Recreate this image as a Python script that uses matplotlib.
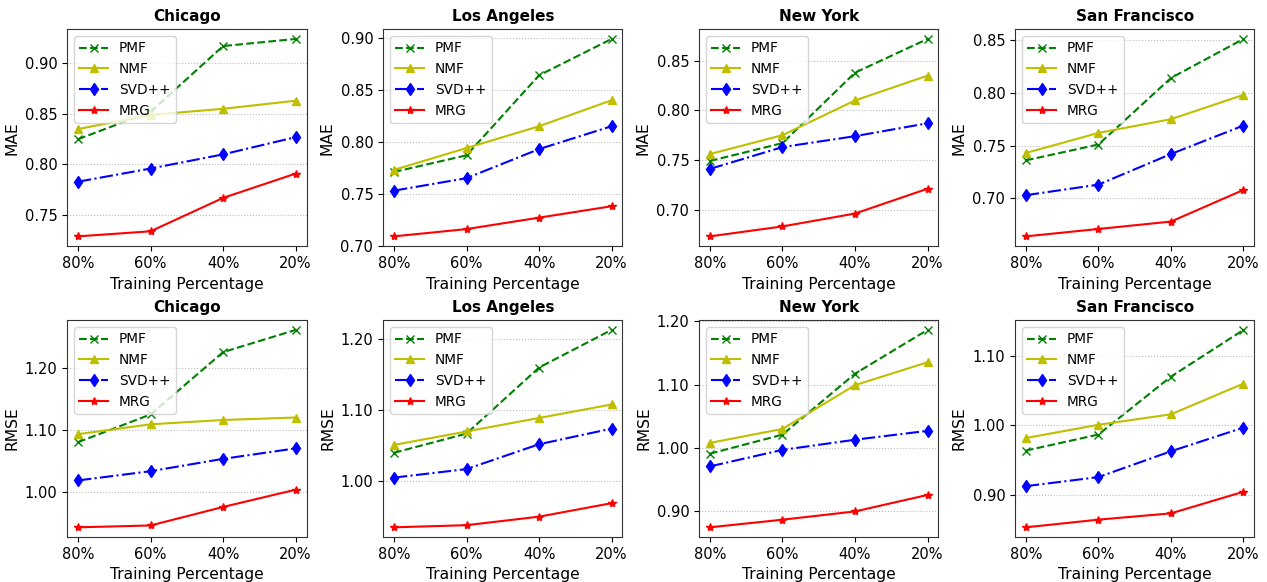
import numpy as np
import matplotlib
matplotlib.use('Agg')
import matplotlib.pyplot as plt
from matplotlib.ticker import FormatStrFormatter, MultipleLocator

cities = ['Chicago', 'Los Angeles', 'New York', 'San Francisco']
train_pct = ['80%', '60%', '40%', '20%']
methods = ['PMF', 'NMF', 'SVD++', 'MRG']

# MAE per city, per method (80%, 60%, 40%, 20%)
mae_chicago = [[0.825, 0.852, 0.917, 0.924],
               [0.835, 0.849, 0.855, 0.863],
               [0.783, 0.796, 0.810, 0.827],
               [0.729, 0.734, 0.767, 0.791]]
mae_la = [[0.771, 0.787, 0.864, 0.899],
          [0.773, 0.794, 0.815, 0.840],
          [0.753, 0.765, 0.793, 0.815],
          [0.709, 0.716, 0.727, 0.738]]
mae_ny = [[0.749, 0.767, 0.838, 0.872],
          [0.756, 0.775, 0.810, 0.835],
          [0.741, 0.763, 0.774, 0.787],
          [0.673, 0.683, 0.696, 0.721]]
mae_sf = [[0.736, 0.751, 0.814, 0.851],
          [0.743, 0.762, 0.775, 0.798],
          [0.703, 0.713, 0.742, 0.769],
          [0.664, 0.671, 0.678, 0.708]]

# RMSE
rmse_chicago = [[1.080, 1.125, 1.226, 1.262],
                [1.093, 1.109, 1.116, 1.120],
                [1.018, 1.033, 1.053, 1.070],
                [0.942, 0.945, 0.975, 1.003]]
rmse_la = [[1.040, 1.067, 1.160, 1.213],
           [1.051, 1.070, 1.089, 1.108],
           [1.005, 1.017, 1.052, 1.074],
           [0.935, 0.938, 0.950, 0.969]]
rmse_ny = [[0.991, 1.021, 1.117, 1.186],
           [1.008, 1.030, 1.099, 1.135],
           [0.971, 0.997, 1.013, 1.027],
           [0.875, 0.887, 0.900, 0.926]]
rmse_sf = [[0.964, 0.987, 1.070, 1.137],
           [0.982, 1.001, 1.016, 1.060],
           [0.913, 0.926, 0.963, 0.997],
           [0.854, 0.865, 0.874, 0.905]]

mae_all = [mae_chicago, mae_la, mae_ny, mae_sf]
rmse_all = [rmse_chicago, rmse_la, rmse_ny, rmse_sf]

styles = ['g--x', 'y-^', 'b-.d', 'r-*']

fig, axes = plt.subplots(2, 4, figsize=(12.67, 5.82), dpi=100)
plt.subplots_adjust(left=0.053, right=0.99, top=0.95, bottom=0.077,
                    wspace=0.32, hspace=0.34)

x = np.arange(len(train_pct))
for row, (metric, data, step) in enumerate([('MAE', mae_all, 0.05),
                                            ('RMSE', rmse_all, 0.1)]):
    for col in range(4):
        ax = axes[row, col]
        for i in range(4):
            ax.plot(x, data[col][i], styles[i], label=methods[i], markersize=6)
        ax.set_xticks(x)
        ax.set_xticklabels(train_pct, fontsize=10.5)
        ax.tick_params(axis='y', labelsize=10.5)
        ax.yaxis.grid(True, linestyle=':', color='#bbbbbb')
        ax.set_xlabel('Training Percentage', fontsize=11.2)
        ax.set_ylabel(metric, fontsize=11.2)
        ax.set_title(cities[col], fontsize=11, fontweight='bold')
        ax.yaxis.set_major_formatter(FormatStrFormatter('%.2f'))
        ax.yaxis.set_major_locator(MultipleLocator(step))
        for s in ax.spines.values():
            s.set_edgecolor('#333333')
        ax.legend(loc='upper left', fontsize=9.8, handlelength=2.1)

plt.savefig('out.png')
